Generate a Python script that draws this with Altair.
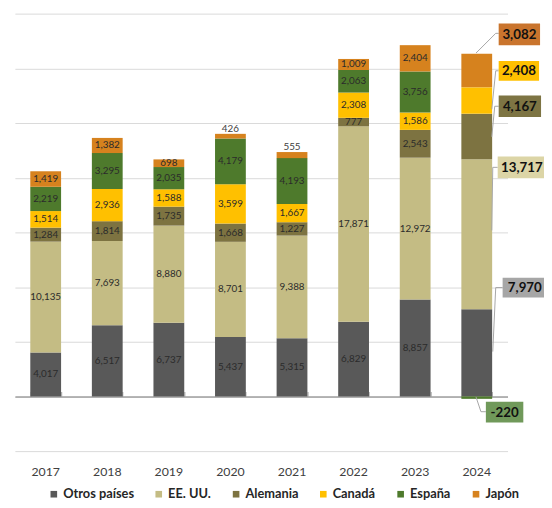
import altair as alt
import pandas as pd

# ---------------- data ----------------
years = ["2017", "2018", "2019", "2020", "2021", "2022", "2023", "2024"]
series = ["Otros países", "EE. UU.", "Alemania", "Canadá", "España", "Japón"]
otros = [4017, 6517, 6737, 5437, 5315, 6829, 8857, 7970]
eeuu = [10135, 7693, 8880, 8701, 9388, 17871, 12972, 13717]
alemania = [1284, 1814, 1735, 1668, 1227, 777, 2543, 4167]
canada = [1514, 2936, 1588, 3599, 1667, 2308, 1586, 2408]
espana = [2219, 3295, 2035, 4179, 4193, 2063, 3756, -220]
japon = [1419, 1382, 698, 426, 555, 1009, 2404, 3082]

# ---------------- styles ----------------
colors = ["#595959", "#c4bc84", "#7d7341", "#ffc000", "#4e7a2c", "#d6821e"]
box_colors = ["#a6a6a6", "#dcd5a6", "#7d7443", "#ffc000", "#70995a", "#c9742d"]
FONT = "Lato"

values = [otros, eeuu, alemania, canada, espana, japon]
rows = []
for i, yr in enumerate(years):
    pos, neg = 0, 0
    for k, s in enumerate(series):
        v = values[k][i]
        if v >= 0:
            lo, hi = pos, pos + v
            pos = hi
        else:
            lo, hi = neg + v, neg
            neg = lo
        rows.append(dict(year=yr, series=s, value=v, order=k,
                         mid=(lo + hi) / 2, top=hi, label=f"{v:,}"))
df = pd.DataFrame(rows)
last = years[-1]
inside = df[(df.year != last) & ~((df.series == "Japón") & (df.value < 600))]
above = df[(df.year != last) & (df.series == "Japón") & (df.value < 600)]

# callout layout for the last year (pixel positions in plot area)
call_box = {  # x1, x2, y1, y2
    "Japón": (491, 533, 10, 32),
    "Canadá": (491, 532, 48, 68),
    "Alemania": (491, 534, 83, 105),
    "EE. UU.": (490, 539, 145, 167),
    "Otros países": (495, 540, 268, 288),
    "España": (478, 516, 394, 415),
}
call_line = {
    "Japón": [(468, 40), (488, 20), (491, 20)],
    "Canadá": [(484, 97), (488, 58), (491, 58)],
    "Alemania": [(484, 125), (487, 94), (491, 94)],
    "EE. UU.": [(484, 220), (485, 156), (490, 156)],
    "Otros países": [(485, 343), (488, 278), (495, 278)],
    "España": [(468, 389), (473, 404), (478, 404)],
}
box_rows, line_rows = [], []
for k, s in enumerate(series):
    x1, x2, y1, y2 = call_box[s]
    box_rows.append(dict(series=s, x1=x1, x2=x2, y1=y1, y2=y2,
                         tx=(x1 + x2) / 2, ty=(y1 + y2) / 2 + 0.5,
                         fill=box_colors[k], label=f"{values[k][-1]:,}"))
    for j, (lx, ly) in enumerate(call_line[s]):
        line_rows.append(dict(series=s, pt=j, lx=lx, ly=ly))
boxes = pd.DataFrame(box_rows)
lines = pd.DataFrame(line_rows)

xscale = alt.Scale(type="band", domain=years, paddingInner=0.5, paddingOuter=0.25)
yscale = alt.Scale(domain=[-5000, 35000], nice=False, zero=False)

bars = alt.Chart(df).mark_bar().encode(
    x=alt.X("year:N", scale=xscale, sort=years,
            axis=alt.Axis(orient="bottom", domain=False, ticks=False, tickSize=0,
                          labelPadding=15, labelFont=FONT, labelFontSize=12.5,
                          labelColor="#404040", labelAngle=0, title=None, grid=False)),
    y=alt.Y("value:Q", stack="zero", scale=yscale,
            axis=alt.Axis(values=list(range(-5000, 35001, 5000)), grid=True,
                          gridColor="#d9d9d9", gridWidth=1, labels=False,
                          ticks=False, domain=False, title=None)),
    color=alt.Color("series:N", scale=alt.Scale(domain=series, range=colors),
                    legend=alt.Legend(orient="none", legendX=33, legendY=481,
                                      direction="horizontal", title=None,
                                      symbolType="square", symbolSize=45,
                                      symbolStrokeWidth=0, labelFont=FONT,
                                      labelFontSize=13, labelFontWeight="bold",
                                      labelColor="#262626", columnPadding=18.5,
                                      labelOffset=3, padding=0)),
    order=alt.Order("order:Q"),
)

lab_in = alt.Chart(inside).mark_text(font=FONT, fontSize=10, color="#2b2b2b",
                                     baseline="middle").encode(
    x=alt.X("year:N", scale=xscale, sort=years,
            axis=alt.Axis(orient="top", offset=-388.5, labels=False, domain=True,
                          domainColor="#a0a0a0", domainWidth=1.5, ticks=True,
                          tickColor="#a0a0a0", tickWidth=1, tickSize=5,
                          tickBand="extent", title=None, grid=False)),
    y=alt.Y("mid:Q", scale=yscale, axis=None),
    text="label:N",
)

lab_up = alt.Chart(above).mark_text(font=FONT, fontSize=10, color="#404040",
                                    baseline="middle", dy=-5).encode(
    x=alt.X("year:N", scale=xscale, sort=years, axis=None),
    y=alt.Y("top:Q", scale=yscale, axis=None),
    text="label:N",
)

leader = alt.Chart(lines).mark_line(color="#a6a6a6", strokeWidth=1).encode(
    x=alt.X("lx:Q", scale=None, axis=None),
    y=alt.Y("ly:Q", scale=None, axis=None),
    detail="series:N",
    order="pt:Q",
)

box = alt.Chart(boxes).mark_rect().encode(
    x=alt.X("x1:Q", scale=None, axis=None), x2="x2:Q",
    y=alt.Y("y1:Q", scale=None, axis=None), y2="y2:Q",
    color=alt.Color("fill:N", scale=None, legend=None),
)

box_txt = alt.Chart(boxes).mark_text(font=FONT, fontSize=13.5, fontWeight="bold",
                                     color="#111111", baseline="middle").encode(
    x=alt.X("tx:Q", scale=None, axis=None),
    y=alt.Y("ty:Q", scale=None, axis=None),
    text="label:N",
)

chart = alt.layer(bars, lab_in, lab_up, leader, box, box_txt).resolve_scale(
    x="independent", y="independent", color="independent"
).properties(
    width=500, height=444,
    autosize=alt.AutoSizeParams(type="none"),
    padding={"left": 7, "top": 2, "right": 37, "bottom": 54},
).configure_view(stroke=None)

chart.save("out.html", embed_options={"renderer": "svg", "actions": False})
